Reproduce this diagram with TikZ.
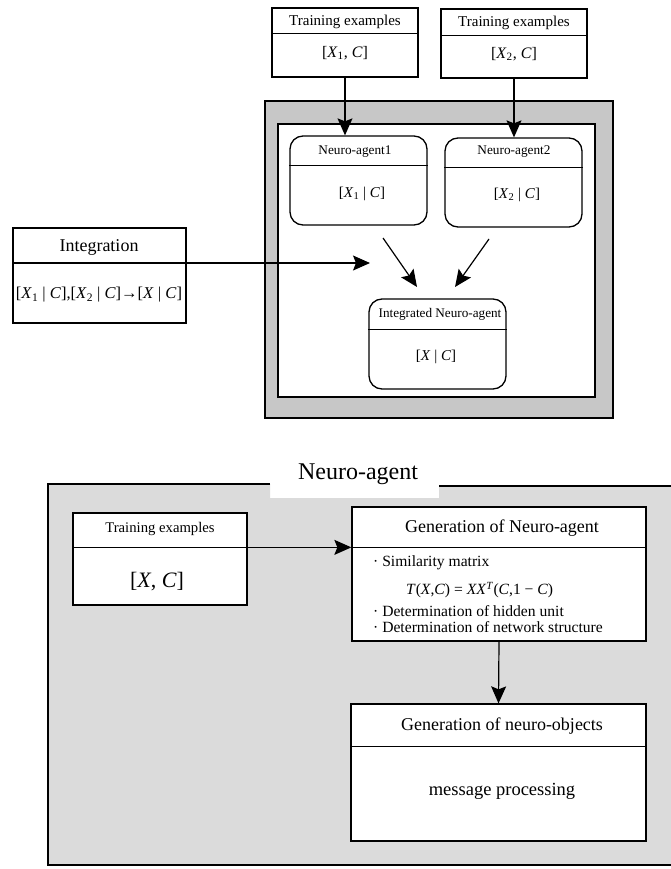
\documentclass[tikz,border=0pt]{standalone}
\usepackage{fontspec}
\setmainfont{Liberation Serif}
\usetikzlibrary{arrows.meta,calc}
\newcommand\itx[1]{\textit{#1}}
\newcommand\fs[1]{\fontsize{#1}{#1}\selectfont}
\definecolor{framegray}{gray}{0.78}
\definecolor{panelgray}{gray}{0.86}
\begin{document}
\begin{tikzpicture}[x=1pt,y=-1pt,
  box/.style={draw, line width=1.3pt, inner sep=0pt, fill=white},
  rbox/.style={box, rounded corners=13pt},
  divline/.style={line width=1.1pt},
  arr/.style={line width=1.2pt, -{Stealth[length=17pt,width=15pt,inset=3pt]}},
  lbl/.style={inner sep=0pt, anchor=center}]
\useasboundingbox (0,0) rectangle (671,869);

% ---------- upper part: integration of two neuro-agents ----------
\fill[framegray] (265,101) rectangle (613,418);
\draw[line width=1.3pt] (265,101) rectangle (613,418);
\draw[box] (278,124) rectangle (595,397);

\node[box, minimum width=146pt, minimum height=69pt] (te1) at (345,42.5) {};
\draw[divline] ([yshift=-26pt]te1.north west) -- ([yshift=-26pt]te1.north east);
\node[lbl, font=\fs{15}] (te1t) at (345,22) {Training examples};
\node[lbl, font=\fs{16}] (te1c) at (345,53) {[\itx{X}\textsubscript{1}, \itx{C}]};

\node[box, minimum width=146pt, minimum height=69pt] (te2) at (514,43.5) {};
\draw[divline] ([yshift=-27pt]te2.north west) -- ([yshift=-27pt]te2.north east);
\node[lbl, font=\fs{15}] (te2t) at (514,23) {Training examples};
\node[lbl, font=\fs{16}] (te2c) at (514,54) {[\itx{X}\textsubscript{2}, \itx{C}]};

\node[rbox, minimum width=137pt, minimum height=89pt] (na1) at (358.5,180.5) {};
\draw[divline] ([yshift=-30pt]na1.north west) -- ([yshift=-30pt]na1.north east);
\node[lbl, font=\fs{13.3}] (na1t) at (355,152) {Neuro-agent1};
\node[lbl, font=\fs{15}] (na1c) at (362,194) {[\itx{X}\textsubscript{1} | \itx{C}]};

\node[rbox, minimum width=137pt, minimum height=89pt] (na2) at (513.5,182.5) {};
\draw[divline] ([yshift=-30pt]na2.north west) -- ([yshift=-30pt]na2.north east);
\node[lbl, font=\fs{13.3}] (na2t) at (514,152) {Neuro-agent2};
\node[lbl, font=\fs{15}] (na2c) at (517,195) {[\itx{X}\textsubscript{2} | \itx{C}]};

\node[rbox, minimum width=137pt, minimum height=90pt] (integ) at (437.5,344) {};
\draw[divline] ([yshift=-31pt]integ.north west) -- ([yshift=-31pt]integ.north east);
\node[lbl, font=\fs{13.2}] (integt) at (440,314) {Integrated Neuro-agent};
\node[lbl, font=\fs{15}] (integc) at (436,357) {[\itx{X} | \itx{C}]};

\node[box, minimum width=173pt, minimum height=95pt] (intg) at (99.5,275.5) {};
\node[lbl, font=\fs{18}] (intgt) at (99,247) {Integration};
\node[lbl, font=\fs{16.5}] (intgc) at (99,295)
  {[\itx{X}\textsubscript{1} | \itx{C}],[\itx{X}\textsubscript{2} | \itx{C}]→[\itx{X} | \itx{C}]};

\coordinate (intend) at (370,263);
\coordinate (a1s) at (383,238);
\coordinate (a1e) at (417,287);
\coordinate (a2s) at (489,239);
\coordinate (a2e) at (455,287);

\draw[line width=1.1pt] (intg.west |- intend) -- (intg.east |- intend);
\draw[arr] (intg.east |- intend) -- (intend);
\draw[arr] (te1.south) -- (te1.south |- na1.north);
\draw[arr] (te2.south) -- (te2.south |- na2.north);
\draw[arr] (a1s) -- (a1e);
\draw[arr] (a2s) -- (a2e);

% ---------- lower part: inside one neuro-agent ----------
\fill[panelgray] (48,484) -- (270,484) -- (270,498) -- (439,498) -- (439,486)
  -- (671,486) -- (671,865) -- (48,865) -- cycle;
\draw[line width=1.3pt] (270,484) -- (48,484) -- (48,865) -- (671,865);
\draw[line width=1.3pt] (439,486) -- (671,486);
\node[lbl, font=\fs{24}] (nat) at (358,474) {Neuro-agent};

\node[box, minimum width=174pt, minimum height=92pt] (te3) at (160,559) {};
\draw[divline] ([yshift=-35pt]te3.north west) -- ([yshift=-35pt]te3.north east);
\node[lbl, font=\fs{14.7}] (te3t) at (160,529) {Training examples};
\node[lbl, font=\fs{22}] (te3c) at (157,582) {[\itx{X}, \itx{C}]};

\node[box, minimum width=294pt, minimum height=134pt] (gen) at (499,574) {};
\draw[divline] ([yshift=-41pt]gen.north west) -- ([yshift=-41pt]gen.north east);
\node[lbl, font=\fs{18}] (gent) at (502,528) {Generation of Neuro-agent};
\node[lbl, anchor=west, font=\fs{15.6}] (gen1) at (373,563) {· Similarity matrix};
\node[lbl, anchor=west, font=\fs{15.6}] (gen2) at (406,590)
  {\itx{T}(\itx{X},\itx{C}) = \itx{XX}\textsuperscript{\itx{T}}(\itx{C},1 − \itx{C})};
\node[lbl, anchor=west, font=\fs{15.6}] (gen3) at (373,611) {· Determination of hidden unit};
\node[lbl, anchor=west, font=\fs{15.6}] (gen4) at (373,627) {· Determination of network structure};

\node[box, minimum width=295pt, minimum height=137pt] (obj) at (498.5,772.5) {};
\draw[divline] ([yshift=-43pt]obj.north west) -- ([yshift=-43pt]obj.north east);
\node[lbl, font=\fs{18}] (objt) at (502,726) {Generation of neuro-objects};
\node[lbl, font=\fs{18.5}] (objc) at (502,791) {message processing};

\draw[arr] ([yshift=-35pt]te3.north east) -- ([yshift=-41pt]gen.north west);
\draw[arr] (gen.south) -- (obj.north);
\end{tikzpicture}
\end{document}
